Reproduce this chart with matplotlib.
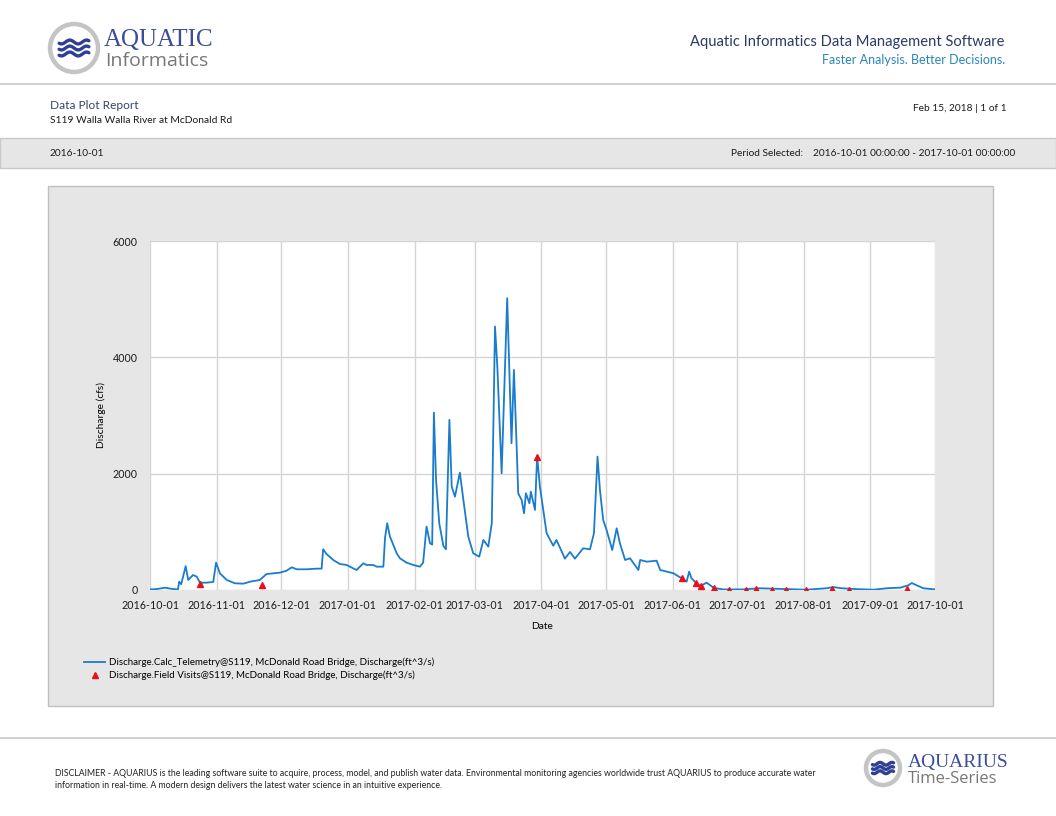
import numpy as np
import pandas as pd
import matplotlib
matplotlib.use("Agg")
import matplotlib.pyplot as plt
import matplotlib.dates as mdates
from matplotlib.patches import Rectangle, Circle

plt.rcParams['font.family'] = ['Lato', 'DejaVu Sans']

# telemetry discharge (cfs)
tele_dates = [
    "2016-10-01 00:00", "2016-10-04 00:00", "2016-10-08 00:00", "2016-10-11 00:00",
    "2016-10-14 00:00", "2016-10-14 14:00", "2016-10-15 12:00", "2016-10-16 00:00",
    "2016-10-17 14:00", "2016-10-18 19:00", "2016-10-21 00:00", "2016-10-22 17:00",
    "2016-10-24 05:00", "2016-10-27 07:00", "2016-10-30 10:00", "2016-10-31 17:00",
    "2016-11-02 12:00", "2016-11-05 17:00", "2016-11-09 12:00", "2016-11-13 10:00",
    "2016-11-16 12:00", "2016-11-21 00:00", "2016-11-24 05:00", "2016-11-27 07:00",
    "2016-11-30 10:00", "2016-12-03 12:00", "2016-12-05 22:00", "2016-12-08 05:00",
    "2016-12-12 19:00", "2016-12-17 12:00", "2016-12-19 19:00", "2016-12-20 12:00",
    "2016-12-22 02:00", "2016-12-25 05:00", "2016-12-28 07:00", "2016-12-31 10:00",
    "2017-01-05 00:00", "2017-01-08 05:00", "2017-01-09 17:00", "2017-01-12 19:00",
    "2017-01-14 10:00", "2017-01-17 12:00", "2017-01-18 07:00", "2017-01-19 07:00",
    "2017-01-20 14:00", "2017-01-23 17:00", "2017-01-25 05:00", "2017-01-28 07:00",
    "2017-01-31 10:00", "2017-02-03 12:00", "2017-02-05 00:00", "2017-02-06 14:00",
    "2017-02-08 05:00", "2017-02-09 05:00", "2017-02-10 00:00", "2017-02-11 00:00",
    "2017-02-12 12:00", "2017-02-14 10:00", "2017-02-15 14:00", "2017-02-17 05:00",
    "2017-02-18 07:00", "2017-02-19 19:00", "2017-02-22 02:00", "2017-02-23 17:00",
    "2017-02-26 00:00", "2017-02-28 07:00", "2017-03-03 02:00", "2017-03-05 00:00",
    "2017-03-07 07:00", "2017-03-08 22:00", "2017-03-10 10:00", "2017-03-11 12:00",
    "2017-03-13 12:00", "2017-03-15 00:00", "2017-03-16 02:00", "2017-03-17 10:00",
    "2017-03-18 02:00", "2017-03-19 05:00", "2017-03-20 05:00", "2017-03-21 05:00",
    "2017-03-22 19:00", "2017-03-23 22:00", "2017-03-24 19:00", "2017-03-26 10:00",
    "2017-03-27 02:00", "2017-03-29 00:00", "2017-03-30 00:00", "2017-03-31 07:00",
    "2017-04-03 10:00", "2017-04-06 12:00", "2017-04-08 00:00", "2017-04-11 22:00",
    "2017-04-14 07:00", "2017-04-16 14:00", "2017-04-20 10:00", "2017-04-23 14:00",
    "2017-04-25 10:00", "2017-04-27 02:00", "2017-04-28 05:00", "2017-04-29 17:00",
    "2017-05-01 07:00", "2017-05-03 22:00", "2017-05-06 00:00", "2017-05-07 12:00",
    "2017-05-09 22:00", "2017-05-12 05:00", "2017-05-16 02:00", "2017-05-16 22:00",
    "2017-05-20 00:00", "2017-05-24 14:00", "2017-05-26 05:00", "2017-05-29 07:00",
    "2017-06-01 10:00", "2017-06-05 05:00", "2017-06-07 12:00", "2017-06-08 17:00",
    "2017-06-09 19:00", "2017-06-12 02:00", "2017-06-14 00:00", "2017-06-16 19:00",
    "2017-06-20 05:00", "2017-06-24 12:00", "2017-07-03 14:00", "2017-07-11 12:00",
    "2017-07-24 00:00", "2017-08-02 00:00", "2017-08-11 14:00", "2017-08-14 17:00",
    "2017-08-18 14:00", "2017-08-25 14:00", "2017-09-02 10:00", "2017-09-08 14:00",
    "2017-09-14 19:00", "2017-09-18 14:00", "2017-09-20 05:00", "2017-09-22 12:00",
    "2017-09-25 14:00", "2017-10-01 00:00",
]
tele_cfs = [
    10, 15, 40, 20,
    10, 143, 100, 172,
    410, 172, 258, 230,
    126, 126, 138, 470,
    287, 172, 115, 109,
    143, 172, 275, 287,
    298, 332, 390, 356,
    356, 367, 367, 700,
    619, 516, 447, 430,
    344, 459, 430, 430,
    401, 401, 900, 1147,
    917, 631, 545, 470,
    430, 401, 470, 1090,
    803, 780, 3050, 1892,
    1147, 757, 700, 2924,
    1777, 1605, 2018, 1548,
    917, 631, 573, 860,
    745, 1147, 4530, 3841,
    2007, 3727, 5017, 3325,
    2523, 3784, 2752, 1663,
    1548, 1319, 1663, 1491,
    1691, 1376, 2300, 1777,
    975, 762, 860, 539,
    654, 539, 717, 700,
    975, 2293, 1720, 1204,
    1032, 688, 1061, 803,
    516, 545, 344, 516,
    487, 504, 344, 315,
    287, 201, 143, 315,
    201, 115, 69, 126,
    35, 10, 10, 30,
    15, 5, 30, 50,
    30, 15, 5, 30,
    40, 80, 120, 80,
    30, 10,
]

# field visit measurements
visit_dates = [
    "2016-10-24 05:00", "2016-11-22 00:00", "2017-03-30 00:00", "2017-06-05 05:00",
    "2017-06-12 02:00", "2017-06-14 00:00", "2017-06-20 05:00", "2017-06-27 05:00",
    "2017-07-05 00:00", "2017-07-10 00:00", "2017-07-17 05:00", "2017-07-23 22:00",
    "2017-08-01 22:00", "2017-08-14 05:00", "2017-08-22 02:00", "2017-09-18 00:00",
]
visit_cfs = [98, 80, 2293, 201, 125, 72, 35, 0, 0, 10, 5, 0, 0, 20, 0, 25]

x_ticks = ["2016-10-01", "2016-11-01", "2016-12-01", "2017-01-01", "2017-02-01",
           "2017-03-01", "2017-04-01", "2017-05-01", "2017-06-01", "2017-07-01",
           "2017-08-01", "2017-09-01", "2017-10-01"]
y_ticks = [0, 2000, 4000, 6000]

W, H = 1056, 816
fig = plt.figure(figsize=(W / 100, H / 100), dpi=100)
fig.patch.set_facecolor('white')


def fx(x):
    return x / W


def fy(y):
    return 1 - y / H


def ftext(x, y, s, **kw):
    fig.text(fx(x), fy(y), s, **kw)


# overlay for page decoration (pixel coordinates)
deco = fig.add_axes([0, 0, 1, 1], zorder=0)
deco.set_xlim(0, W)
deco.set_ylim(H, 0)
deco.axis('off')

# header
deco.axhline(84, color='#c8c8c8', lw=1.2)


def logo(cx, cy, r):
    deco.add_patch(Circle((cx, cy), r, facecolor='white', edgecolor='#c4c4c4', lw=3.2))
    t = np.linspace(-0.62 * r, 0.62 * r, 60)
    for dy in (-0.25 * r, 0, 0.25 * r):
        deco.plot(cx + t, cy + dy + 0.08 * r * np.sin(t / r * 9), color='#2e3f96', lw=2.4,
                  solid_capstyle='round')


txt = '#1a1a1a'
logo(74, 48, 24)
ftext(104, 46, "AQUATIC", family='Liberation Serif', fontsize=18, color='#3c4c9c')
ftext(105, 66, "Informatics", family='Open Sans', fontsize=14, color='#777777')

ftext(1005, 46, "Aquatic Informatics Data Management Software", ha='right',
      fontsize=10.6, color='#2b3a66')
ftext(1005, 64, "Faster Analysis. Better Decisions.", ha='right',
      fontsize=9, color='#2a86b8')

ftext(50, 109, "Data Plot Report", fontsize=8.6, color='#34456f')
ftext(50, 123, "S119 Walla Walla River at McDonald Rd", fontsize=7.4, color=txt)
ftext(1007, 111, "Feb 15, 2018 | 1 of 1", ha='right', fontsize=7.3, color=txt)

# gray band
deco.add_patch(Rectangle((0, 138), W, 30, facecolor='#e6e6e6', edgecolor='#c8c8c8', lw=1))
ftext(50, 156, "2016-10-01", fontsize=7.3, color=txt)
ftext(803, 156, "Period Selected:", ha='right', fontsize=7.3, color=txt)
ftext(1015, 156, "2016-10-01 00:00:00 - 2017-10-01 00:00:00", ha='right',
      fontsize=7.3, color=txt)

# chart panel
deco.add_patch(Rectangle((48, 186), 945, 520, facecolor='#e6e6e6', edgecolor='#c0c0c0', lw=1))

# footer
deco.axhline(738, color='#c8c8c8', lw=1.2)
ftext(55, 776, "DISCLAIMER - AQUARIUS is the leading software suite to acquire, process, model, and "
      "publish water data. Environmental monitoring agencies worldwide trust AQUARIUS to produce "
      "accurate water", fontsize=6.3, color='#222222')
ftext(55, 788, "information in real-time. A modern design delivers the latest water science in an "
      "intuitive experience.", fontsize=6.3, color='#222222')
logo(883, 768, 17)
ftext(908, 767, "AQUARIUS", family='Liberation Serif', fontsize=14, color='#3c4c9c')
ftext(908, 783, "Time-Series", family='Open Sans', fontsize=12, color='#777777')

# main axes
L, R, T, B = 150, 935, 241, 590
ax = fig.add_axes([fx(L), fy(B), (R - L) / W, (B - T) / H], zorder=2)
ax.set_facecolor('white')

td = pd.to_datetime(tele_dates)
vd = pd.to_datetime(visit_dates)
ax.plot(td, tele_cfs, color='#1a7ccc', lw=1.3,
        label="Discharge.Calc_Telemetry@S119, McDonald Road Bridge, Discharge(ft^3/s)")
ax.plot(vd, visit_cfs, linestyle='none', marker='^', color='#e8101a', markersize=5,
        label="Discharge.Field Visits@S119, McDonald Road Bridge, Discharge(ft^3/s)", zorder=3)

ax.set_xlim(pd.Timestamp(x_ticks[0]), pd.Timestamp(x_ticks[-1]))
ax.set_ylim(0, 6000)
ax.set_xticks(pd.to_datetime(x_ticks))
ax.xaxis.set_major_formatter(mdates.DateFormatter('%Y-%m-%d'))
ax.set_yticks(y_ticks)
ax.grid(True, color='#d4d4d4', lw=1)
ax.set_axisbelow(True)
for s in ax.spines.values():
    s.set_visible(False)
ax.tick_params(length=0, labelsize=7.7, colors=txt, pad=7)
ax.tick_params(axis='y', pad=9)
ax.set_xlabel("Date", fontsize=7.4, labelpad=8)
ax.set_ylabel("Discharge (cfs)", fontsize=7.4, labelpad=5)

leg = fig.legend(loc='upper left', bbox_to_anchor=(fx(80), fy(654)), frameon=False,
                 fontsize=7.0, handlelength=2.2, handletextpad=0.4, labelspacing=0.35,
                 borderaxespad=0)

fig.savefig("out.png", dpi=100)
